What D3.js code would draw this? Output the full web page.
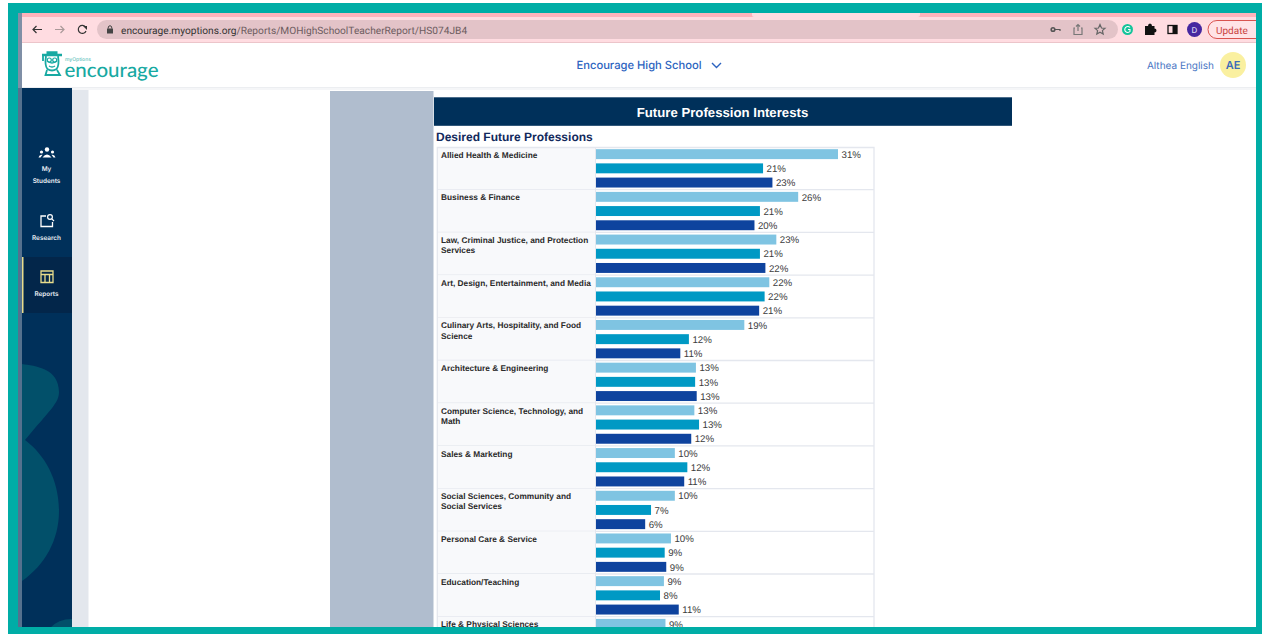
<!DOCTYPE html>
<html>
<head>
<meta charset="utf-8">
<script src="https://cdn.jsdelivr.net/npm/d3@7"></script>
<style>
  html, body { margin: 0; padding: 0; background: #fff; overflow: hidden; }
  svg { display: block; text-rendering: geometricPrecision; }
</style>
</head>
<body>
<div id="chart"></div>
<script>
// Categories, wrapped the way the report wraps them
const categories = [
  ["Allied Health & Medicine"],
  ["Business & Finance"],
  ["Law, Criminal Justice, and Protection", "Services"],
  ["Art, Design, Entertainment, and Media"],
  ["Culinary Arts, Hospitality, and Food", "Science"],
  ["Architecture & Engineering"],
  ["Computer Science, Technology, and", "Math"],
  ["Sales & Marketing"],
  ["Social Sciences, Community and", "Social Services"],
  ["Personal Care & Service"],
  ["Education/Teaching"],
  ["Life & Physical Sciences"]
];

// Three bars per profession, the report has no legend so they are just first/second/third.
const firstBars  = [31, 25.9, 23.1, 22.2, 19, 12.8, 12.6, 10.1, 10.1, 9.6, 8.7, 8.9];
const secondBars = [21.4, 21, 21, 21.6, 11.9, 12.7, 13.2, 11.7, 7.05, 8.8, 8.2];
const thirdBars  = [22.6, 20.3, 21.7, 20.9, 10.8, 12.9, 12.2, 11.3, 6.3, 9, 10.6];
const seriesNames = ["first", "second", "third"];
const seriesColors = ["#7fc4e2", "#0099c4", "#0e439e"];

const navItems = [["My", "Students"], ["Research"], ["Reports"]];

const W = 1262, H = 634;
const teal = "#00ada6", navy = "#00305a";
const uiFont = "Inter, 'Open Sans', sans-serif";
const reportFont = "'Liberation Sans', Arial, sans-serif";

const svg = d3.select("#chart").append("svg")
  .attr("width", W)
  .attr("height", H);

function box(x, y, w, h, fill) {
  return svg.append("rect").attr("x", x).attr("y", y).attr("width", w).attr("height", h).attr("fill", fill);
}
function label(x, y, str, size, fill, weight, anchor, family) {
  return svg.append("text")
    .attr("x", x).attr("y", y)
    .attr("font-family", family || uiFont)
    .attr("font-size", size)
    .attr("font-weight", weight || 400)
    .attr("text-anchor", anchor || "start")
    .attr("fill", fill)
    .text(str);
}

// Page behind the report
box(22, 43, 1234, 585, "#fff");
box(72, 88, 16.5, 540, "#e3e7ed");
box(330, 91, 103.5, 537, "#b0bdce");

// Report header
box(434, 97.3, 578, 28.5, navy);
label(722.5, 117, "Future Profession Interests", 13.2, "#fff", 700, "middle", reportFont);
label(436, 141, "Desired Future Professions", 12, "#12295c", 700, "start", reportFont);

// Scales for the rows, the bars in a row and the bar length
const rowHeight = 42.7;
const x = d3.scaleLinear().domain([0, 31]).range([596, 838]);
const y = d3.scaleBand()
  .domain(d3.range(categories.length))
  .range([147, 147 + rowHeight * categories.length]);
const inner = d3.scaleBand()
  .domain(seriesNames)
  .range([0, y.bandwidth()])
  .paddingInner(0.3)
  .paddingOuter(0.153);

// Row backgrounds and lines
const rows = svg.append("g").selectAll("g")
  .data(categories)
  .join("g")
  .attr("transform", (d, i) => "translate(0," + y(i) + ")");

rows.append("rect")
  .attr("x", 437).attr("y", 0)
  .attr("width", 158).attr("height", y.bandwidth())
  .attr("fill", "#f8f9fb");

rows.append("line")
  .attr("x1", 437).attr("x2", 874)
  .attr("y1", y.bandwidth()).attr("y2", y.bandwidth())
  .attr("stroke", "#e4e7ee")
  .attr("stroke-width", 1.3);

rows.append("text")
  .attr("font-family", reportFont)
  .attr("font-size", 8.3)
  .attr("font-weight", 700)
  .attr("fill", "#2a2a2a")
  .selectAll("tspan")
  .data(d => d)
  .join("tspan")
  .attr("x", 441)
  .attr("y", (d, i) => 10.7 + i * 10.2)
  .text(d => d);

// Frame lines of the table
svg.append("path")
  .attr("d", d3.line()([[437.3, 628], [437.3, 147.5], [874, 147.5], [874, 628]]))
  .attr("fill", "none")
  .attr("stroke", "#e4e7ee")
  .attr("stroke-width", 1.3);
svg.append("line")
  .attr("x1", 595.5).attr("x2", 595.5).attr("y1", 147.5).attr("y2", 628)
  .attr("stroke", "#e4e7ee");

// Bars and percent labels
const pct = d3.format(".0f");
[firstBars, secondBars, thirdBars].forEach(function(values, s) {
  const g = svg.append("g");
  g.selectAll("rect")
    .data(values)
    .join("rect")
    .attr("x", x(0))
    .attr("y", (d, i) => y(i) + inner(seriesNames[s]))
    .attr("width", d => x(d) - x(0))
    .attr("height", inner.bandwidth())
    .attr("fill", seriesColors[s]);
  g.selectAll("text")
    .data(values)
    .join("text")
    .attr("x", d => x(d) + 3.5)
    .attr("y", (d, i) => y(i) + inner(seriesNames[s]) + inner.bandwidth() / 2 + 3.7)
    .attr("font-family", reportFont)
    .attr("font-size", 9.7)
    .attr("fill", "#3c3c3c")
    .text(d => pct(d) + "%");
});

// App header
box(22, 43, 1234, 44, "#fff");
box(22, 87, 1234, 1, "#eceef1");
box(22, 88, 1234, 2, "#f5f6f8");
label(639, 69, "Encourage High School", 11.2, "#2c63c0", 500, "middle");
svg.append("path")
  .attr("d", "M712 63 L716.5 67.5 L721 63")
  .attr("fill", "none").attr("stroke", "#2c63c0").attr("stroke-width", 1.4);
label(1214, 69, "Althea English", 10, "#4a76c4", 400, "end");
svg.append("circle").attr("cx", 1233).attr("cy", 65).attr("r", 13).attr("fill", "#faf0a0");
label(1233, 69, "AE", 11, "#3e6cb8", 600, "middle");

// Logo: owl in a mortarboard
const logo = svg.append("g").attr("fill", "none").attr("stroke", "#17a9a2");
logo.append("path").attr("stroke-width", 2.4)
  .attr("d", "M42 55 L62 55 M46.5 52.5 L57.5 52.5");
logo.append("path").attr("stroke-width", 1.8)
  .attr("d", "M46 56 Q44.5 66 47.5 69 Q52 72 56.5 69 Q59.5 66 58 56 M47 70 L45.5 75 L60 75 L57 70 M43 56 L43 61");
logo.append("path").attr("stroke-width", 1.3)
  .attr("d", "M47 61 Q52 65 57 61 M49 66 Q52 68 55 66");
logo.append("circle").attr("cx", 49.3).attr("cy", 60).attr("r", 2).attr("stroke-width", 1.2);
logo.append("circle").attr("cx", 54.7).attr("cy", 60).attr("r", 2).attr("stroke-width", 1.2);
label(65, 61, "myOptions", 5, "#6cc6c1", 500);
label(64.5, 76.5, "encourage", 20, "#17a9a2", 500, "start", "Lato, sans-serif")
  .attr("textLength", 94)
  .attr("lengthAdjust", "spacingAndGlyphs");

// Sidebar
box(22, 88, 50, 540, navy);
svg.append("path").attr("fill", "#02506a")
  .attr("d", "M22 364 C35 366 59 368 59 392 C59 403 50 410 25 440 C45 455 59 480 59 511 C59 540 45 565 22 581 Z");
svg.append("path").attr("fill", "#02506a")
  .attr("d", "M50 628 Q58 619 72 619 L72 628 Z");
box(22, 257, 50, 56, "#03264a");
box(22, 257, 1.5, 56, "#e8dc8c");

const navY = [[171, 183], [239.5], [295.5]];
navItems.forEach(function(lines, i) {
  lines.forEach(function(t, j) {
    label(46.5, navY[i][j], t, 6.4, "#e8edf3", 600, "middle");
  });
});
// My Students icon
const people = svg.append("g").attr("fill", "#fff");
people.append("circle").attr("cx", 47).attr("cy", 149.5).attr("r", 2.2);
people.append("circle").attr("cx", 41.5).attr("cy", 152).attr("r", 1.6);
people.append("circle").attr("cx", 52.5).attr("cy", 152).attr("r", 1.6);
people.append("path").attr("d", "M42.5 157.5 Q47 151.5 51.5 157.5 Z");
people.append("path").attr("d", "M38.5 157.5 Q39.5 154 42.5 154.8 L40.5 157.5 Z M55.5 157.5 Q54.5 154 51.5 154.8 L53.5 157.5 Z");
// Research icon
svg.append("path").attr("fill", "none").attr("stroke", "#fff").attr("stroke-width", 1.3)
  .attr("d", "M46 216 L41 216 L41 226.5 L52.5 226.5 L52.5 222");
svg.append("circle").attr("cx", 50).attr("cy", 217).attr("r", 2.4).attr("fill", "none").attr("stroke", "#fff").attr("stroke-width", 1.2);
svg.append("path").attr("d", "M51.8 218.8 L54 221").attr("stroke", "#fff").attr("stroke-width", 1.2);
// Reports icon
svg.append("path").attr("fill", "none").attr("stroke", "#e8dc8c").attr("stroke-width", 1.3)
  .attr("d", "M41 271 H53 V282.5 H41 Z M41 274.5 H53 M45 274.5 V282.5 M49.5 274.5 V282.5");

// Browser toolbar
box(22, 13, 1234, 4, "#ffb3bb");
svg.append("rect").attr("x", 752).attr("y", 11).attr("width", 168).attr("height", 6).attr("rx", 2).attr("fill", "#ffdce1");
box(22, 17, 1234, 25, "#ffdce1");
box(22, 42, 1234, 1, "#ecc5ca");
svg.append("rect").attr("x", 97).attr("y", 20).attr("width", 1021).attr("height", 19).attr("rx", 9.5).attr("fill", "#e3c3c8");

const chromeIcons = svg.append("g").attr("fill", "none").attr("stroke", "#333").attr("stroke-width", 1.2);
chromeIcons.append("path").attr("d", "M33 29.5 H42 M36.5 26 L33 29.5 L36.5 33");
chromeIcons.append("path").attr("stroke", "#a99").attr("d", "M55 29.5 H64 M60.5 26 L64 29.5 L60.5 33");
chromeIcons.append("path").attr("d", "M85.5 27 A4 4 0 1 0 86 31");
chromeIcons.append("path").attr("fill", "#333").attr("stroke", "none").attr("d", "M83 26 L87 26 L87 30 Z");
box(107, 28.5, 6, 5, "#444");
svg.append("path").attr("d", "M108.3 28.5 V27 A1.8 1.8 0 0 1 111.7 27 V28.5").attr("fill", "none").attr("stroke", "#444");
const urlHost = label(121, 33.5, "encourage.myoptions.org", 10.18, "#333", 400, "start", "Roboto, sans-serif");
urlHost.append("tspan").attr("fill", "#6d5c60").text("/Reports/MOHighSchoolTeacherReport/HS074JB4");

chromeIcons.append("circle").attr("cx", 1053).attr("cy", 29.5).attr("r", 1.8).attr("stroke", "#555").attr("stroke-width", 1.6);
chromeIcons.append("path").attr("stroke", "#555").attr("d", "M1055 29.5 H1060 V31");
chromeIcons.append("path").attr("stroke", "#777").attr("d", "M1075 28 H1074 V34.5 H1082 V28 H1081 M1078 31 V24.5 M1076 26.5 L1078 24.5 L1080 26.5");
chromeIcons.append("path").attr("stroke", "#666").attr("d", "M1100 24.5 L1101.5 28 L1105 28.3 L1102.4 30.6 L1103.2 34 L1100 32.2 L1096.8 34 L1097.6 30.6 L1095 28.3 L1098.5 28 Z");

svg.append("circle").attr("cx", 1127.5).attr("cy", 29.5).attr("r", 5.5).attr("fill", "#15c39a");
svg.append("path").attr("d", "M1130 27.5 A3 3 0 1 0 1130 31.5 V29.5 H1128").attr("fill", "none").attr("stroke", "#fff").attr("stroke-width", 1.1);
svg.append("path").attr("fill", "#111").attr("d", "M1145 26 H1148 Q1148 23.5 1150 23.5 Q1152 23.5 1152 26 H1154.5 V28.5 Q1156.5 28.5 1156.5 30.5 Q1156.5 32.5 1154.5 32.5 V35 H1145 Z");
svg.append("rect").attr("x", 1168).attr("y", 25.5).attr("width", 9).attr("height", 8).attr("fill", "none").attr("stroke", "#111").attr("stroke-width", 1.3);
box(1172.5, 25.5, 4.5, 8, "#111");
svg.append("circle").attr("cx", 1194.5).attr("cy", 29.5).attr("r", 7.5).attr("fill", "#4527a0");
label(1194.5, 32.5, "D", 8, "#d9d2f0", 500, "middle");
svg.append("path").attr("d", "M1256 20.5 H1217 A9 9 0 0 0 1217 38.5 H1256").attr("fill", "#ffe3e6").attr("stroke", "#d9534f");
label(1216, 33.5, "Update", 10, "#c9423e", 400, "start", "Roboto, sans-serif");

// Outer teal frame, drawn last because it crops the screenshot
svg.append("path")
  .attr("fill-rule", "evenodd")
  .attr("fill", teal)
  .attr("d", "M8 3 H1262 V634 H8 Z M18 13 V627 H1256 V13 Z");
box(18, 13, 4, 614, "#55718e");
box(18, 13, 4, 75, "#7f8fa6");
</script>
</body>
</html>
